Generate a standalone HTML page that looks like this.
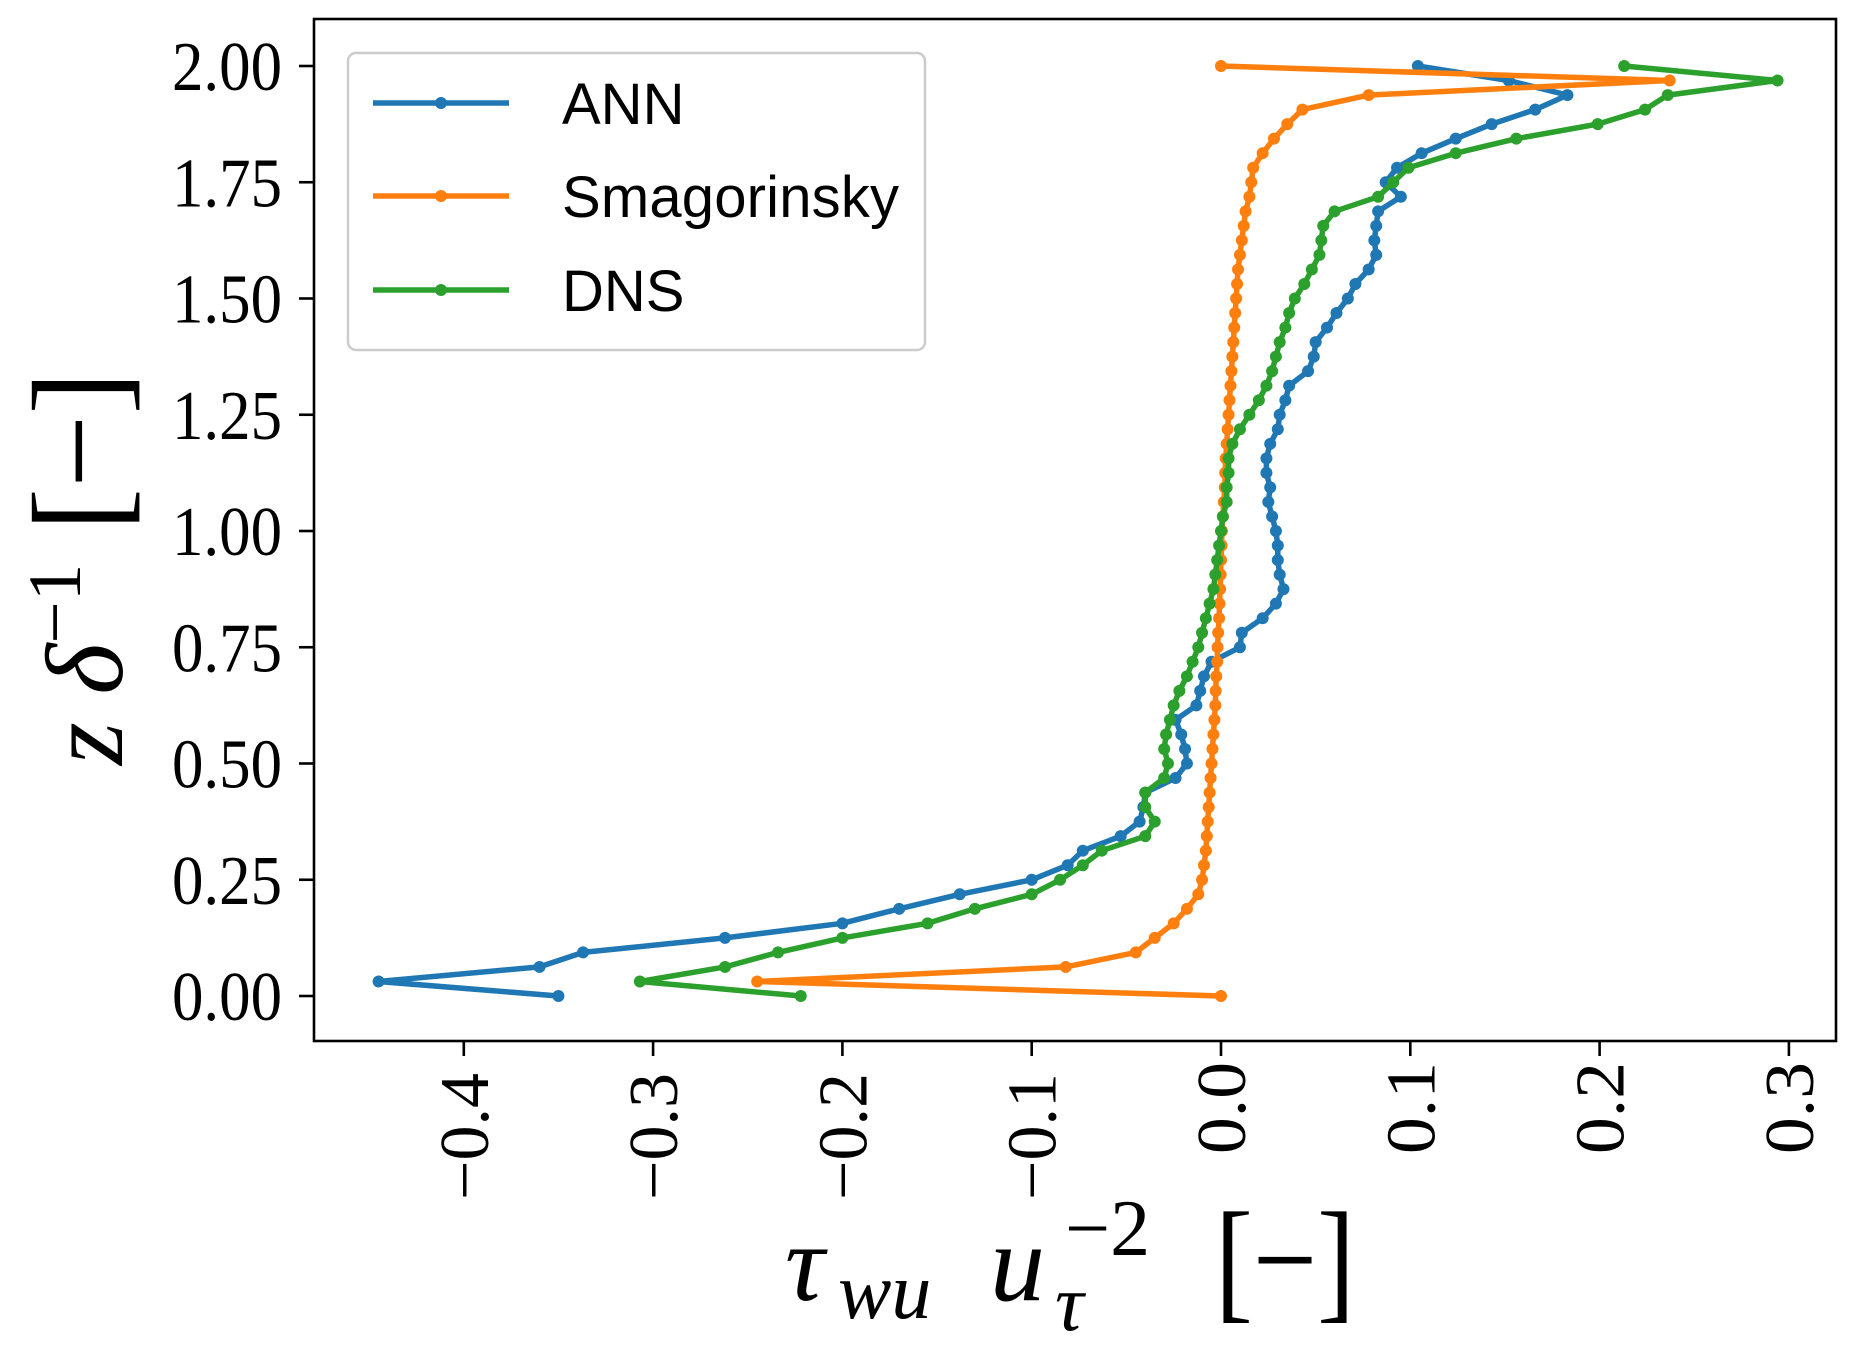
<!DOCTYPE html>
<html><head><meta charset="utf-8"><style>
html,body{margin:0;padding:0;background:#fff;}
svg{display:block;}
</style></head><body>
<svg id="chart" width="1856" height="1350" viewBox="0 0 1856 1350" xmlns="http://www.w3.org/2000/svg">
<rect x="0" y="0" width="1856" height="1350" fill="#fff"/>
<g id="series"></g>
<g id="axes"></g>
<g id="legend">
  <rect x="348" y="53" width="577" height="297" rx="8" fill="#fff" fill-opacity="0.8" stroke="#ccc" stroke-width="2.5"/>
  <g>
    <line x1="373" y1="103" x2="509" y2="103" stroke="#1f77b4" stroke-width="5.5"/><circle cx="441" cy="103" r="6" fill="#1f77b4"/>
    <text x="562" y="124" font-family="Liberation Sans, sans-serif" font-size="58">ANN</text>
  </g>
  <g>
    <line x1="373" y1="196" x2="509" y2="196" stroke="#ff7f0e" stroke-width="5.5"/><circle cx="441" cy="196" r="6" fill="#ff7f0e"/>
    <text x="562" y="217" font-family="Liberation Sans, sans-serif" font-size="58" textLength="337">Smagorinsky</text>
  </g>
  <g>
    <line x1="373" y1="290" x2="509" y2="290" stroke="#2ca02c" stroke-width="5.5"/><circle cx="441" cy="290" r="6" fill="#2ca02c"/>
    <text x="562" y="311" font-family="Liberation Sans, sans-serif" font-size="58">DNS</text>
  </g>
</g>
<g font-family="Liberation Serif, serif" font-style="italic">
  <text x="785" y="1300" font-size="110">τ</text>
  <text x="838" y="1318" font-size="80">wu</text>
  <text x="990" y="1300" font-size="110">u</text>
  <text x="1055" y="1330" font-size="80">τ</text>
  <text x="1065" y="1255" font-size="80" font-style="normal">−2</text>
  <text x="1215" y="1305" font-size="135" font-style="normal" textLength="140" lengthAdjust="spacingAndGlyphs">[−]</text>
</g>
<text transform="translate(122,765) rotate(-90)" font-family="Liberation Serif, serif" font-style="italic" font-size="110">z δ<tspan font-size="75" font-style="normal" dy="-42">−1</tspan><tspan font-style="normal" dy="42" font-size="130"> [−]</tspan></text>
</svg>
<script>
const zGrid = [0,1,2,3,4,5,6,7,8,9,10,11,12,13,14,15,16,17,18,19,20,21,22,23,24,25,26,27,28,29,30,31,32,33,34,35,36,37,38,39,40,41,42,43,44,45,46,47,48,49,50,51,52,53,54,55,56,57,58,59,60,61,62,63,64];
const annValues = [-0.350,-0.445,-0.360,-0.337,-0.262,-0.200,-0.170,-0.138,
 -0.100,-0.081,-0.073,-0.053,-0.043,-0.041,-0.040,-0.024,
 -0.018,-0.019,-0.021,-0.024,-0.013,-0.011,-0.009,-0.005,
 0.010,0.011,0.022,0.029,0.033,0.031,0.030,0.030,
 0.029,0.027,0.025,0.026,0.024,0.024,0.026,0.030,
 0.031,0.034,0.036,0.046,0.049,0.050,0.056,0.061,
 0.067,0.071,0.078,0.082,0.081,0.082,0.083,0.095,
 0.087,0.093,0.106,0.124,0.143,0.166,0.183,0.152,
 0.104];
const smagValues = [0.000,-0.245,-0.082,-0.045,-0.035,-0.025,-0.018,-0.012,
 -0.010,-0.009,-0.008,-0.0075,-0.007,-0.0065,-0.006,-0.0055,
 -0.005,-0.0045,-0.004,-0.0035,-0.003,-0.0028,-0.0025,-0.002,
 -0.0018,-0.0015,-0.001,-0.0008,-0.0005,-0.0002,0.000,0.0003,
 0.0005,0.001,0.0015,0.002,0.0022,0.0025,0.003,0.0035,
 0.004,0.0045,0.005,0.0055,0.006,0.0065,0.007,0.0075,
 0.008,0.0085,0.009,0.010,0.011,0.012,0.013,0.015,
 0.016,0.017,0.022,0.028,0.035,0.043,0.078,0.237,
 0.000];
const dnsValues = [-0.222,-0.307,-0.262,-0.234,-0.200,-0.155,-0.130,-0.100,
 -0.085,-0.073,-0.063,-0.040,-0.035,-0.040,-0.040,-0.030,
 -0.028,-0.030,-0.029,-0.027,-0.025,-0.022,-0.018,-0.015,
 -0.012,-0.010,-0.008,-0.006,-0.004,-0.003,-0.002,-0.001,
 0.000,0.001,0.003,0.003,0.004,0.004,0.006,0.010,
 0.015,0.020,0.024,0.027,0.029,0.031,0.034,0.036,
 0.039,0.044,0.048,0.052,0.053,0.054,0.060,0.083,
 0.091,0.099,0.124,0.156,0.199,0.224,0.236,0.294,
 0.213];
const xTicks = [-0.4,-0.3,-0.2,-0.1,0.0,0.1,0.2,0.3];
const xTickLabels = ["−0.4","−0.3","−0.2","−0.1","0.0","0.1","0.2","0.3"];
const yTicks = [0,0.25,0.5,0.75,1.0,1.25,1.5,1.75,2.0];
const yTickLabels = ["0.00","0.25","0.50","0.75","1.00","1.25","1.50","1.75","2.00"];

const NS = "http://www.w3.org/2000/svg";
function xScale(v){ return 1221 + v*1893; }
function yScale(v){ return 996 - v*465; }
function mk(tag, attrs, parent){ const e=document.createElementNS(NS,tag); for(const k in attrs) e.setAttribute(k,attrs[k]); parent.appendChild(e); return e; }

const seriesG = document.getElementById('series');
function drawSeries(vals, color, name){
  const g = mk('g', {}, seriesG);
  
  
  const pts = vals.map((v,i)=> xScale(v).toFixed(1)+','+yScale(zGrid[i]/32).toFixed(1)).join(' ');
  const pl = mk('polyline', {points:pts, fill:'none', stroke:color, 'stroke-width':5.5, 'stroke-linejoin':'round'}, g);
  
  
  vals.forEach((v,i)=>{
    const c = mk('circle', {cx:xScale(v), cy:yScale(zGrid[i]/32), r:6, fill:color}, g);
    
    
  });
}
drawSeries(annValues, '#1f77b4', 'ann-series');
drawSeries(smagValues, '#ff7f0e', 'smagorinsky-series');
drawSeries(dnsValues, '#2ca02c', 'dns-series');

const axesG = document.getElementById('axes');
const frame = mk('rect', {x:314, y:19, width:1522, height:1022, fill:'none', stroke:'#000', 'stroke-width':2.6}, axesG);


xTicks.forEach((t,i)=>{
  const x = xScale(t);
  const tk = mk('line', {x1:x, y1:1041, x2:x, y2:1056, stroke:'#000', 'stroke-width':2.6}, axesG);
  
  
  const tx = mk('text', {transform:'translate('+(x+24)+',1200) rotate(-90)', 'font-family':'Liberation Serif, serif', 'font-size':70, textLength:127, lengthAdjust:'spacingAndGlyphs'}, axesG);
  tx.textContent = xTickLabels[i];
  if(t>=0){ tx.setAttribute('transform','translate('+(x+24)+',1154) rotate(-90)'); tx.setAttribute('textLength', 92); }
  
  
});
yTicks.forEach((t,i)=>{
  const y = yScale(t);
  const tk = mk('line', {x1:299, y1:y, x2:314, y2:y, stroke:'#000', 'stroke-width':2.6}, axesG);
  
  
  const tx = mk('text', {x:172, y:y+24, 'font-family':'Liberation Serif, serif', 'font-size':70, textLength:110, lengthAdjust:'spacingAndGlyphs'}, axesG);
  tx.textContent = yTickLabels[i];
  
  
});
</script>
</body></html>
